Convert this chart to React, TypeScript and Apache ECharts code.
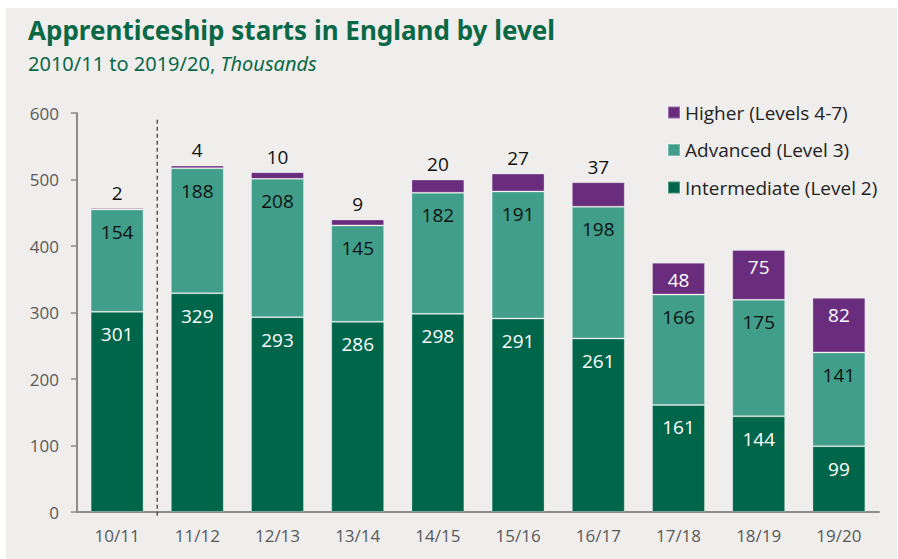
import React, { useEffect, useRef } from "react";
import * as echarts from "echarts";

const categories = ["10/11", "11/12", "12/13", "13/14", "14/15", "15/16", "16/17", "17/18", "18/19", "19/20"];
const intermediate = [301, 329, 293, 286, 298, 291, 261, 161, 144, 99];
const advanced = [154, 188, 208, 145, 182, 191, 198, 166, 175, 141];
const higher = [2, 4, 10, 9, 20, 27, 37, 48, 75, 82];
const seriesNames = ["Intermediate (Level 2)", "Advanced (Level 3)", "Higher (Levels 4-7)"];
const titleText = "Apprenticeship starts in England by level";
const subtitleMain = "2010/11 to 2019/20, ";
const subtitleItalic = "Thousands";

const DARK = "#00664a";
const TEAL = "#409e8a";
const PURPLE = "#6a2d7e";
const FONT = "'Open Sans', sans-serif";

export default function App() {
  const ref = useRef<HTMLDivElement>(null);
  useEffect(() => {
    if (!ref.current) return;
    const chart = echarts.init(ref.current, null, { renderer: "svg" });
    const barStyle = (c: string) => ({ color: c, borderColor: "rgba(255,255,255,0.3)", borderWidth: 1 });
    const option: any = {
      animation: false,
      backgroundColor: "#efeeec",
      textStyle: { fontFamily: FONT },
      grid: { left: 71, right: 18, top: 105, bottom: 47 },
      legend: {
        data: [seriesNames[2], seriesNames[1], seriesNames[0]],
        orient: "vertical",
        left: 656,
        top: 90,
        itemWidth: 12,
        itemHeight: 12,
        itemGap: 18.5,
        icon: "rect",
        textStyle: { fontSize: 19, color: "#222", fontFamily: FONT },
      },
      xAxis: {
        type: "category",
        data: categories,
        axisLine: { lineStyle: { color: "#8c8c8c", width: 2 } },
        axisTick: { show: false },
        axisLabel: { fontSize: 17, color: "#595959", margin: 15, fontFamily: FONT },
      },
      yAxis: {
        type: "value",
        min: 0,
        max: 600,
        interval: 100,
        splitLine: { show: false },
        axisLine: { show: true, lineStyle: { color: "#8c8c8c", width: 2 } },
        axisTick: { show: true, length: 6, lineStyle: { color: "#8c8c8c", width: 1.5 } },
        axisLabel: { fontSize: 17, color: "#595959", margin: 18, fontFamily: FONT },
      },
      series: [
        {
          name: seriesNames[0],
          type: "bar",
          stack: "total",
          barWidth: "66%",
          data: intermediate,
          itemStyle: barStyle(DARK),
          label: { show: true, position: "insideTop", distance: 13, color: "#ffffff", fontSize: 19, fontFamily: FONT },
        },
        {
          name: seriesNames[1],
          type: "bar",
          stack: "total",
          data: advanced,
          itemStyle: barStyle(TEAL),
          label: { show: true, position: "insideTop", distance: 13, color: "#111", fontSize: 19, fontFamily: FONT },
        },
        {
          name: seriesNames[2],
          type: "bar",
          stack: "total",
          data: higher.map((v) =>
            v < 45
              ? { value: v, label: { position: "top", distance: 6, color: "#111" } }
              : { value: v, label: { position: "insideTop", distance: 8, color: "#ffffff" } }
          ),
          itemStyle: barStyle(PURPLE),
          label: { show: true, fontSize: 19, fontFamily: FONT },
        },
      ],
    };
    chart.setOption(option);
    const x0 = chart.convertToPixel({ xAxisIndex: 0 }, categories[0]) as number;
    const x1 = chart.convertToPixel({ xAxisIndex: 0 }, categories[1]) as number;
    const yTop = chart.convertToPixel({ yAxisIndex: 0 }, 590) as number;
    const yBot = (chart.convertToPixel({ yAxisIndex: 0 }, 0) as number) + 5;
    const xm = (x0 + x1) / 2;
    chart.setOption({
      graphic: [
        {
          type: "line",
          shape: { x1: xm, y1: yTop, x2: xm, y2: yBot },
          style: { stroke: "#333", lineWidth: 1.2, lineDash: [4, 3] },
          z: 10,
        },
        {
          type: "text",
          left: 22,
          top: 9,
          style: { text: titleText, font: "bold 26px 'Noto Sans', sans-serif", fill: "#0b6847" },
        },
        {
          type: "text",
          left: 22,
          top: 45,
          style: {
            text: subtitleMain + "{i|" + subtitleItalic + "}",
            font: "20px 'Noto Sans', sans-serif",
            fill: "#0b6847",
            rich: { i: { fontStyle: "italic", fontSize: 20, fontFamily: "'Noto Sans', sans-serif", fill: "#0b6847" } },
          },
        },
      ],
    });
    return () => chart.dispose();
  }, []);
  return (
    <div style={{ position: "fixed", left: 0, top: 0, width: 898, height: 559, background: "#ffffff" }}>
      <div ref={ref} style={{ position: "absolute", left: 6, top: 8, width: 891, height: 551 }} />
    </div>
  );
}
